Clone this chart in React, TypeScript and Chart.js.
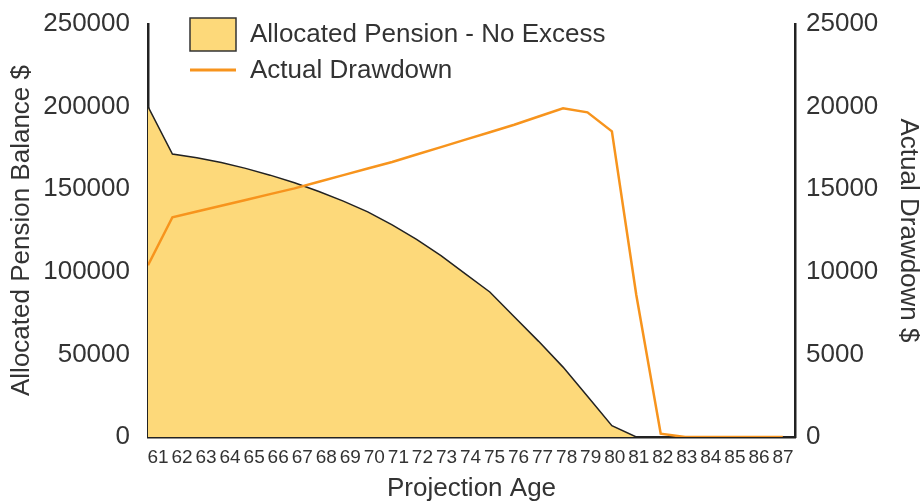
import React, { useEffect, useRef } from "react";
import { Chart, registerables } from "chart.js";

Chart.register(...registerables);

const ages = [61, 62, 63, 64, 65, 66, 67, 68, 69, 70, 71, 72, 73, 74, 75, 76, 77, 78, 79, 80, 81, 82, 83, 84, 85, 86, 87];
const balance = [200000, 171300, 169000, 166100, 162600, 158500, 153900, 148600, 142800, 136300, 128400, 119600, 109800, 98700, 87800, 72800, 57900, 42300, 24700, 6850, 0, 0, 0, 0, 0, 0, 0];
const drawdown = [10400, 13300, 13650, 14000, 14350, 14700, 15050, 15450, 15850, 16250, 16650, 17100, 17550, 18000, 18450, 18900, 19400, 19900, 19650, 18500, 8600, 200, 0, 0, 0, 0, 0];

const balanceLabel = "Allocated Pension - No Excess";
const drawdownLabel = "Actual Drawdown";
const xTitle = "Projection Age";
const yTitle = "Allocated Pension Balance $";
const y1Title = "Actual Drawdown $";

const FILL = "#FDD97A";
const ORANGE = "#F7941D";
const TEXT = "#333333";
const AXIS = "#222222";
const FONT = '"Liberation Sans", Arial, sans-serif';

const legendPlugin = {
  id: "insideLegend",
  afterDraw(chart: any) {
    const ctx = chart.ctx;
    const ds = chart.data.datasets;
    const left = chart.chartArea.left + 42;
    ctx.save();
    ctx.fillStyle = ds[1].backgroundColor;
    ctx.fillRect(left, 18, 46, 33);
    ctx.strokeStyle = "#333";
    ctx.lineWidth = 1.5;
    ctx.strokeRect(left, 18, 46, 33);
    ctx.font = `26px ${FONT}`;
    ctx.fillStyle = TEXT;
    ctx.textBaseline = "middle";
    ctx.textAlign = "left";
    ctx.fillText(ds[1].label, left + 60, 35);
    ctx.strokeStyle = ds[0].borderColor;
    ctx.lineWidth = 3;
    ctx.beginPath();
    ctx.moveTo(left, 70);
    ctx.lineTo(left + 46, 70);
    ctx.stroke();
    ctx.fillText(ds[0].label, left + 60, 71);
    ctx.restore();
  },
};

export default function App() {
  const ref = useRef<HTMLCanvasElement>(null);

  useEffect(() => {
    if (!ref.current) return;
    const chart = new Chart(ref.current, {
      type: "line",
      data: {
        datasets: [
          {
            label: drawdownLabel,
            data: ages.map((a, i) => ({ x: a, y: drawdown[i] })),
            yAxisID: "y1",
            xAxisID: "x",
            borderColor: ORANGE,
            borderWidth: 2.5,
            pointRadius: 0,
            fill: false,
            tension: 0,
            order: 0,
          },
          {
            label: balanceLabel,
            data: ages.map((a, i) => ({ x: a, y: balance[i] })),
            yAxisID: "y",
            xAxisID: "x",
            borderColor: AXIS,
            borderWidth: 1.5,
            backgroundColor: FILL,
            pointRadius: 0,
            fill: "origin",
            tension: 0,
            order: 1,
          },
        ],
      },
      options: {
        animation: false,
        responsive: false,
        layout: { padding: { top: 24, left: 0, right: 0, bottom: 0 } },
        plugins: { legend: { display: false }, tooltip: { enabled: false } },
        scales: {
          x: {
            type: "linear",
            display: false,
            min: 61,
            max: 87.5,
          },
          xl: {
            type: "linear",
            position: "bottom",
            min: 60.584,
            max: 87.5,
            z: 1,
            grid: { display: false, drawTicks: false },
            border: { display: true, color: AXIS, width: 2.5 },
            ticks: {
              stepSize: 1,
              autoSkip: false,
              maxRotation: 0,
              includeBounds: false,
              padding: 9,
              color: TEXT,
              font: { family: FONT, size: 19 },
              callback: (v: any) => (ages.includes(v) ? String(v) : ""),
            },
            title: {
              display: true,
              text: xTitle,
              color: TEXT,
              font: { family: FONT, size: 26 },
              padding: { top: 0, bottom: 0 },
            },
            afterFit: (s: any) => {
              s.height = 67;
              s.paddingLeft = 0;
              s.paddingRight = 0;
            },
          },
          y: {
            type: "linear",
            position: "left",
            min: 0,
            max: 250000,
            z: 1,
            grid: { display: false, drawTicks: false },
            border: { display: true, color: AXIS, width: 2.5 },
            ticks: {
              stepSize: 50000,
              padding: 18,
              color: TEXT,
              font: { family: FONT, size: 26 },
              callback: (v: any) => String(v),
            },
            title: {
              display: true,
              text: yTitle,
              color: TEXT,
              font: { family: FONT, size: 26 },
              padding: { top: 6, bottom: 0 },
            },
            afterFit: (s: any) => {
              s.width = 148;
              s.paddingTop = 0;
              s.paddingBottom = 0;
            },
          },
          y1: {
            type: "linear",
            position: "right",
            min: 0,
            max: 25000,
            z: 1,
            grid: { display: false, drawTicks: false },
            border: { display: true, color: AXIS, width: 2.5 },
            ticks: {
              stepSize: 5000,
              padding: 11,
              color: TEXT,
              font: { family: FONT, size: 26 },
              callback: (v: any) => String(v),
            },
            title: {
              display: true,
              text: y1Title,
              color: TEXT,
              font: { family: FONT, size: 26 },
              padding: { top: 0, bottom: 0 },
            },
            afterFit: (s: any) => {
              s.width = 129;
              s.paddingTop = 0;
              s.paddingBottom = 0;
            },
          },
        },
      },
      plugins: [legendPlugin],
    });
    return () => chart.destroy();
  }, []);

  return (
    <div style={{ position: "absolute", left: 0, top: 0, width: 924, height: 504, background: "#fff" }}>
      <canvas ref={ref} width={924} height={504} />
    </div>
  );
}
